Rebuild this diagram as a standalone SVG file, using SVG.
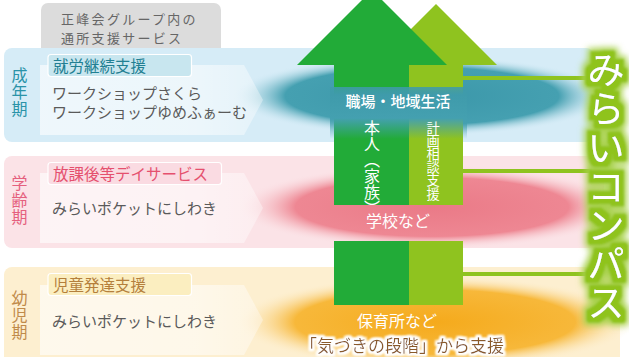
<svg xmlns="http://www.w3.org/2000/svg" width="629" height="357" viewBox="0 0 629 357">
<defs>
<style>
text{font-family:"Noto Sans CJK JP","Noto Sans",sans-serif;}
.gray{font-size:13px;fill:#666;letter-spacing:2.3px;}
.item{font-size:15px;fill:#5a5a5a;}
.lbl{font-size:15.5px;}
.vert{writing-mode:vertical-rl;font-size:16px;}
.wt{fill:#fff;}
.conn{stroke:#8fc31f;stroke-width:4;fill:none;}
</style>
<radialGradient id="gBlue" cx="0.5" cy="0.5" r="0.5">
<stop offset="0" stop-color="#3b97a9"/>
<stop offset="0.72" stop-color="#45a0b1"/>
<stop offset="1" stop-color="#d6ecf7" stop-opacity="0"/>
</radialGradient>
<radialGradient id="gPink" cx="0.5" cy="0.5" r="0.5">
<stop offset="0" stop-color="#ea7a87"/>
<stop offset="0.7" stop-color="#ee8793"/>
<stop offset="1" stop-color="#fbe3e7" stop-opacity="0"/>
</radialGradient>
<radialGradient id="gOrange" cx="0.5" cy="0.5" r="0.5">
<stop offset="0" stop-color="#f5aa1c"/>
<stop offset="0.7" stop-color="#f7b83a"/>
<stop offset="1" stop-color="#fdefd0" stop-opacity="0"/>
</radialGradient>
<linearGradient id="panelFade" x1="0" y1="0" x2="1" y2="0">
<stop offset="0" stop-color="#fff" stop-opacity="0.6"/>
<stop offset="0.7" stop-color="#fff" stop-opacity="0.55"/>
<stop offset="1" stop-color="#fff" stop-opacity="0.35"/>
</linearGradient>
<linearGradient id="tealOver" x1="0" y1="0" x2="0" y2="1">
<stop offset="0" stop-color="#3f9bab" stop-opacity="0.85"/>
<stop offset="0.15" stop-color="#3f9bab" stop-opacity="1"/>
<stop offset="0.6" stop-color="#44a0b0" stop-opacity="1"/>
<stop offset="1" stop-color="#44a0b0" stop-opacity="0"/>
</linearGradient>
<filter id="greenGlow" x="-60%" y="-20%" width="220%" height="140%">
<feMorphology in="SourceAlpha" operator="dilate" radius="8" result="d2"/>
<feFlood flood-color="#a8d14e"/>
<feComposite in2="d2" operator="in" result="halo"/>
<feGaussianBlur in="halo" stdDeviation="3" result="haloB"/>
<feMorphology in="SourceAlpha" operator="dilate" radius="4.5" result="d1"/>
<feFlood flood-color="#8fc31f"/>
<feComposite in2="d1" operator="in" result="edge"/>
<feGaussianBlur in="edge" stdDeviation="0.8" result="edgeB"/>
<feMerge><feMergeNode in="haloB"/><feMergeNode in="edgeB"/><feMergeNode in="SourceGraphic"/></feMerge>
</filter>
<filter id="whiteGlow" x="-10%" y="-40%" width="120%" height="180%">
<feMorphology in="SourceAlpha" operator="dilate" radius="2" result="d"/>
<feFlood flood-color="#fff"/>
<feComposite in2="d" operator="in" result="w"/>
<feGaussianBlur in="w" stdDeviation="1.2" result="wb"/>
<feMerge><feMergeNode in="wb"/><feMergeNode in="wb"/><feMergeNode in="SourceGraphic"/></feMerge>
</filter>
</defs>

<rect width="629" height="357" fill="#fff"/>

<g id="header">
<rect x="41" y="3" width="180" height="60" rx="7" fill="#dcdcdc"/>
<text class="gray" x="61" y="23.5">正峰会グループ内の</text>
<text class="gray" x="61" y="42.5">通所支援サービス</text>
</g>

<g id="band-adult">
<rect x="4" y="48" width="590" height="94" rx="8" fill="#d6ecf7"/>
<ellipse cx="422" cy="96" rx="190" ry="40" fill="url(#gBlue)"/>
</g>
<g id="band-school">
<rect x="4" y="156" width="600" height="92" rx="8" fill="#fbe3e7"/>
<ellipse cx="432" cy="207" rx="195" ry="42" fill="url(#gPink)"/>
</g>
<g id="band-child">
<rect x="4" y="267" width="616" height="100" rx="8" fill="#fdefd0"/>
<ellipse cx="435" cy="322" rx="200" ry="46" fill="url(#gOrange)"/>
</g>

<g id="adult">
<path d="M40 65 H244 L263 100 L244 135 H40 Z" fill="url(#panelFade)"/>
<rect x="48" y="54.5" width="143.5" height="22" rx="3" fill="#c8e6ef" stroke="#fff" stroke-width="1.2"/>
<text class="lbl" x="53" y="71.5" fill="#227f92">就労継続支援</text>
<text class="item" x="52" y="99">ワークショップさくら</text>
<text class="item" x="52" y="118">ワークショップゆめふぁーむ</text>
<text class="vert" x="19.5" y="67" fill="#2a93a8" letter-spacing="1">成年期</text>
</g>

<g id="school">
<path d="M40 173 H244 L263 208 L244 243 H40 Z" fill="url(#panelFade)"/>
<rect x="48" y="162.5" width="173.5" height="22" rx="3" fill="#fadbe2" stroke="#fff" stroke-width="1.2"/>
<text class="lbl" x="53" y="180" fill="#e5506e">放課後等デイサービス</text>
<text class="item" x="52" y="214">みらいポケットにしわき</text>
<text class="vert" x="19.5" y="174.5" fill="#e5607e" letter-spacing="1">学齢期</text>
</g>

<g id="child">
<path d="M40 285 H244 L263 320 L244 355 H40 Z" fill="url(#panelFade)"/>
<rect x="48" y="273.5" width="143.5" height="22" rx="3" fill="#fbeec0" stroke="#fff" stroke-width="1.2"/>
<text class="lbl" x="53" y="291" fill="#b47f3c">児童発達支援</text>
<text class="item" x="52" y="327">みらいポケットにしわき</text>
<text class="vert" x="19.5" y="289.5" fill="#c08a4a" letter-spacing="1">幼児期</text>
</g>

<g id="connectors">
<line class="conn" x1="462" y1="78" x2="592" y2="78"/>
<line class="conn" x1="462" y1="171" x2="592" y2="171"/>
<line class="conn" x1="462" y1="274" x2="592" y2="274"/>
</g>

<g id="arrow-plan">
<path d="M409 65 H375 L436 4 L497 65 H463 V205 H409 Z" fill="#8fc31f"/>
<rect x="409" y="241" width="54" height="64" fill="#8fc31f"/>
</g>
<g id="arrow-person">
<path d="M334 205 V65 H297 L372 -10 L447 65 H409 V205 Z" fill="#22ab38"/>
<rect x="334" y="241" width="75" height="64" fill="#22ab38"/>
</g>

<g id="overlay">
<rect x="330" y="87" width="137" height="52" fill="url(#tealOver)"/>
</g>

<g id="arrow-labels">
<text class="wt" x="398" y="107" text-anchor="middle" font-size="15" font-weight="500">職場・地域生活</text>
<text class="wt vert" x="372" y="120" font-size="16">本人（家族）</text>
<text class="wt vert" x="433" y="121" style="font-size:13.2px">計画相談支援</text>
<text class="wt" x="398" y="227" text-anchor="middle" font-size="16">学校など</text>
<text class="wt" x="397" y="327" text-anchor="middle" font-size="16">保育所など</text>
<text x="402" y="352" text-anchor="middle" font-size="17" fill="#8a5a2a" filter="url(#whiteGlow)">「気づきの段階」から支援</text>
</g>

<g id="mirai-compass">
<text x="606 606 606 606 606 606 606" y="84 123 162 201 240 278 317" text-anchor="middle" font-size="37" fill="#fff" filter="url(#greenGlow)">みらいコンパス</text>
</g>
</svg>
